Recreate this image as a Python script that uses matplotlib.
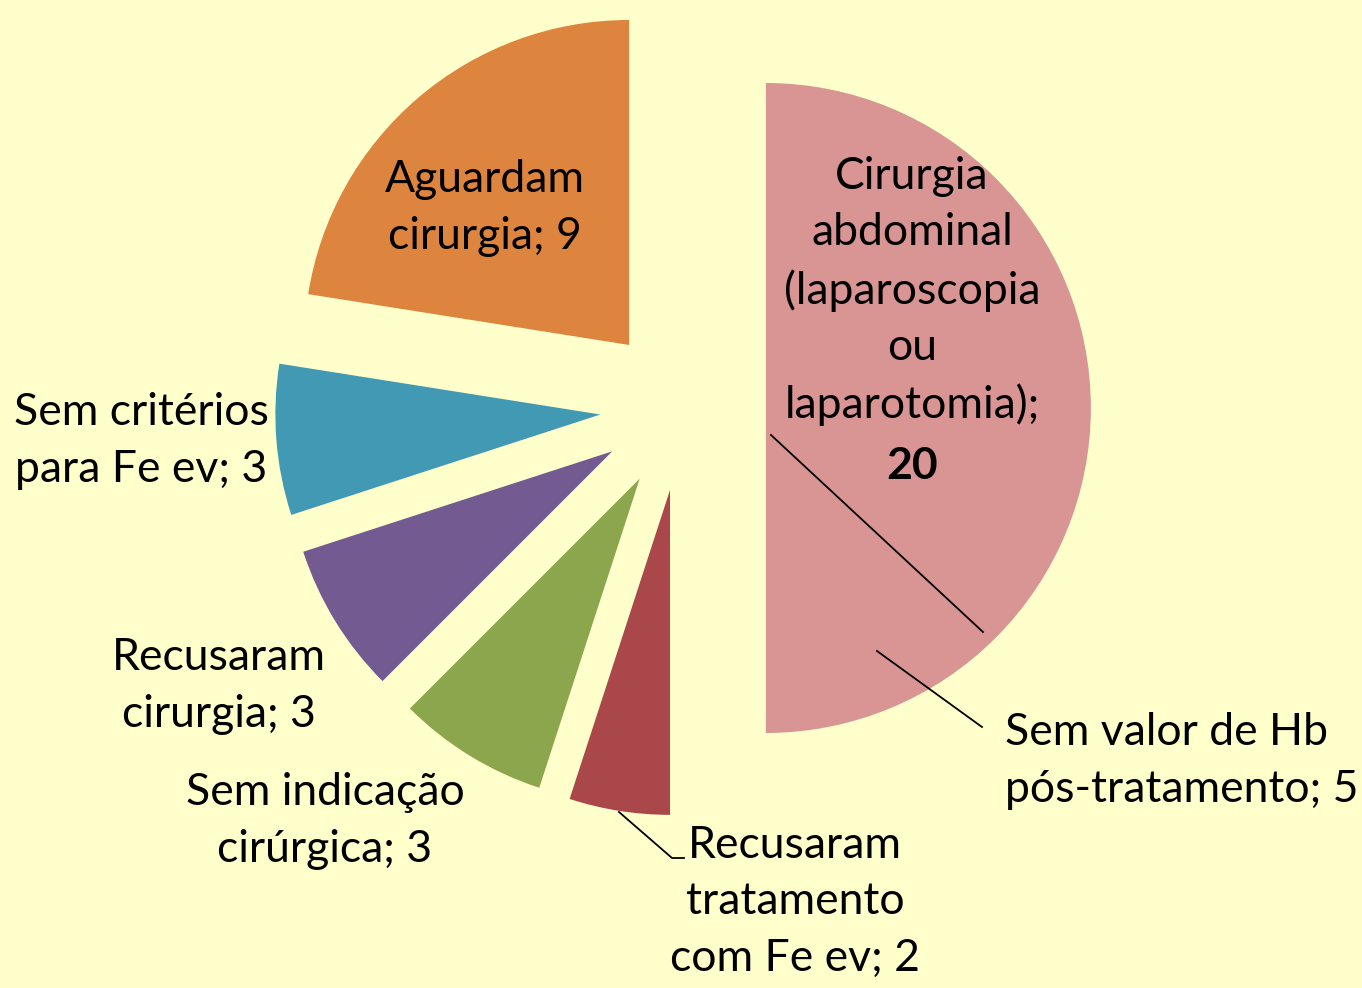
import matplotlib
matplotlib.use("Agg")
import matplotlib.pyplot as plt

labels = ["Cirurgia abdominal (laparoscopia ou laparotomia)", "Recusaram tratamento com Fe ev",
          "Sem indicação cirúrgica", "Recusaram cirurgia", "Sem critérios para Fe ev", "Aguardam cirurgia"]
values = [20, 2, 3, 3, 3, 9]
sub_label = "Sem valor de Hb pós-tratamento"
sub_value = 5
colors = ["#D99594", "#A9474A", "#8BA64D", "#735A90", "#4299B4", "#DD843F"]
bg = "#FFFFCC"

W, H = 1362, 988
fig = plt.figure(figsize=(W / 100, H / 100), dpi=100, facecolor=bg)
ax = fig.add_axes([0, 0, 1, 1])
ax.set_facecolor(bg)

def Y(y):
    return H - y

R = 325
ax.pie(values, radius=R, center=(683, Y(408)), startangle=90, counterclock=False,
       explode=[0.255 * R] * len(values), colors=colors, frame=True,
       wedgeprops=dict(linewidth=0))
ax.set_xlim(0, W)
ax.set_ylim(0, H)
ax.set_aspect("equal")
ax.axis("off")

fam = ["Lato", "DejaVu Sans"]
fs = 32
ls = 1.46

def txt(x, y, s, ha="center", **kw):
    ax.text(x, Y(y), s, ha=ha, va="center", fontsize=fs, family=fam, linespacing=ls, color="black", **kw)

txt(485, 208, f"Aguardam\ncirurgia; {values[5]}")
txt(912, 291, "Cirurgia\nabdominal\n(laparoscopia\nou\nlaparotomia);")
txt(912, 466, f"{values[0]}", weight="bold")
txt(141, 441, f"Sem critérios\npara Fe ev; {values[4]}")
txt(219, 686, f"Recusaram\ncirurgia; {values[3]}")
txt(325, 821, f"Sem indicação\ncirúrgica; {values[2]}")
txt(795, 902, f"Recusaram\ntratamento\ncom Fe ev; {values[1]}")
txt(1005, 761, f"Sem valor de Hb\npós-tratamento; {sub_value}", ha="left")

# divider inside pink wedge and leader lines
ax.plot([771, 983], [Y(435), Y(632)], color="black", lw=1.3)
ax.plot([877, 982], [Y(651), Y(727)], color="black", lw=1.3)
ax.plot([619, 672, 684], [Y(812), Y(858), Y(858)], color="black", lw=1.3)

fig.savefig("out.png", dpi=100, facecolor=bg)
